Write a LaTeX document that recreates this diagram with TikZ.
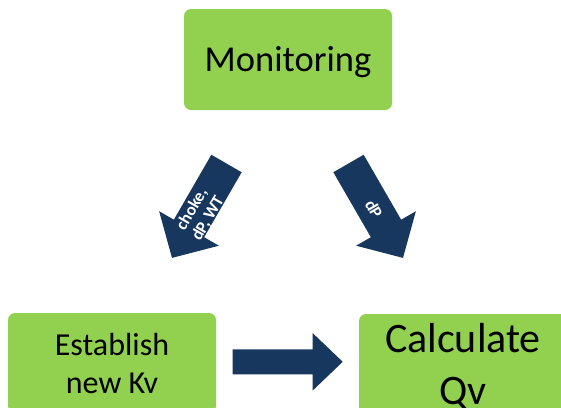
\documentclass[tikz,border=0pt]{standalone}
\usepackage{fontspec}
\setmainfont{Carlito}
\definecolor{boxgreen}{HTML}{92D050}
\definecolor{arrowblue}{HTML}{17375E}
\begin{document}
\begin{tikzpicture}[x=1pt,y=1pt,
  greenbox/.style={fill=boxgreen, draw=none, rounded corners=7pt, inner sep=0pt},
  boxtext/.style={align=center, inner sep=0pt, text=black},
  blockarrow/.style={fill=arrowblue, draw=none},
  arrowlabel/.style={text=white, font=\bfseries\fontsize{17}{18.5}\selectfont, align=center, inner sep=0pt}]
\useasboundingbox (0,0) rectangle (561,-407);
\clip (0,0) rectangle (561,-407);
% boxes
\node[greenbox, minimum width=208pt, minimum height=101pt] (mon) at (288,-59.5) {};
\node[boxtext, font=\fontsize{36.5}{43}\selectfont] (montext) at ([yshift=-3pt]mon.center) {Monitoring};
\node[greenbox, minimum width=208pt, minimum height=100pt] (est) at (112,-363) {};
\node[boxtext, font=\fontsize{32}{38}\selectfont] (esttext) at (est.center) {Establish\\new Kv};
\node[greenbox, minimum width=208pt, minimum height=104pt] (calc) at (463,-366) {};
\node[boxtext, font=\fontsize{42}{52}\selectfont] (calctext) at ([yshift=-1pt]calc.center) {Calculate\\Qv};
% block arrows: tail centre, angle, length, shaft width, head width, head length
\newcommand{\mkblockarrow}[7]{%
  \path[blockarrow, shift={(#1,#2)}, rotate=#3]
    (0,-#5/2) -- (#4-#7,-#5/2) -- (#4-#7,-#6/2) -- (#4,0) -- (#4-#7,#6/2) -- (#4-#7,#5/2) -- (0,#5/2) -- cycle;}
\mkblockarrow{226.5}{-163.5}{240}{109}{35}{69}{34}
\mkblockarrow{348.5}{-163.5}{300}{109}{35}{69}{34}
\mkblockarrow{232.7}{-361.8}{0}{110}{25}{57.4}{30}
% arrow labels
\node[arrowlabel, rotate=60] (lbl1) at (200,-214) {choke,\\dP, WT};
\node[arrowlabel, rotate=-60] (lbl2) at (374,-209) {dP};
\end{tikzpicture}
\end{document}
